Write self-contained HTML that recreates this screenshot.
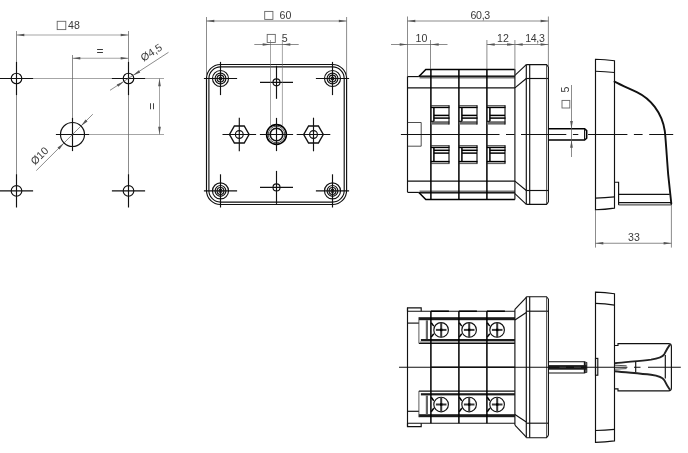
<!DOCTYPE html>
<html lang="en"><head><meta charset="utf-8"><title>Dimensional drawing</title>
<style>
html,body{margin:0;padding:0;background:#fff;}
svg{display:block;will-change:transform;}
svg *{fill:none;}
.k{stroke:#111;stroke-width:1.15;}
.kk{stroke:#000;stroke-width:1.5;}
.kt{stroke:#111;stroke-width:1.9;stroke-linecap:round;}
.kh{stroke:#111;stroke-width:1.4;}
.kn{stroke:#222;stroke-width:1.9;}
.k2{stroke:#222;stroke-width:0.8;}
.k3{stroke:#111;stroke-width:0.9;}
.g{stroke:#5a5a5a;stroke-width:0.7;}
.g2{stroke:#333;stroke-width:0.8;}
.s{stroke:#666;stroke-width:0.9;}
.g3{stroke:#6a6a6a;stroke-width:0.6;}
svg .a{fill:#555;stroke:none;}
svg text{fill:#3a3a3a;stroke:none;font-family:"Liberation Sans",sans-serif;}
</style></head>
<body>
<svg width="688" height="453" viewBox="0 0 688 453">
<rect x="0" y="0" width="688" height="453" style="fill:#fff"/>
<line x1="16.50" y1="78.50" x2="164.00" y2="78.50" class="g3"/>
<line x1="16.50" y1="31.00" x2="16.50" y2="190.90" class="g"/>
<line x1="128.50" y1="31.00" x2="128.50" y2="190.90" class="g"/>
<line x1="72.50" y1="134.50" x2="164.00" y2="134.50" class="g3"/>
<line x1="72.50" y1="55.00" x2="72.50" y2="134.50" class="g"/>
<circle cx="16.50" cy="78.50" r="5.30" class="k"/>
<line x1="-0.10" y1="78.50" x2="33.10" y2="78.50" class="k"/>
<line x1="16.50" y1="61.90" x2="16.50" y2="95.10" class="k"/>
<circle cx="16.50" cy="190.90" r="5.30" class="k"/>
<line x1="-0.10" y1="190.90" x2="33.10" y2="190.90" class="k"/>
<line x1="16.50" y1="174.30" x2="16.50" y2="207.50" class="k"/>
<circle cx="128.50" cy="78.50" r="5.30" class="k"/>
<line x1="111.90" y1="78.50" x2="145.10" y2="78.50" class="k"/>
<line x1="128.50" y1="61.90" x2="128.50" y2="95.10" class="k"/>
<circle cx="128.50" cy="190.90" r="5.30" class="k"/>
<line x1="111.90" y1="190.90" x2="145.10" y2="190.90" class="k"/>
<line x1="128.50" y1="174.30" x2="128.50" y2="207.50" class="k"/>
<circle cx="72.50" cy="134.50" r="12.00" class="k"/>
<line x1="55.90" y1="134.50" x2="89.10" y2="134.50" class="k"/>
<line x1="72.50" y1="117.90" x2="72.50" y2="151.10" class="k"/>
<line x1="16.50" y1="35.00" x2="128.50" y2="35.00" class="g3"/>
<polygon points="16.50,35.00 24.30,33.65 24.30,36.35" class="a"/>
<polygon points="128.50,35.00 120.70,36.35 120.70,33.65" class="a"/>
<line x1="72.50" y1="58.25" x2="128.50" y2="58.25" class="g3"/>
<polygon points="72.50,58.25 80.30,56.90 80.30,59.60" class="a"/>
<polygon points="128.50,58.25 120.70,59.60 120.70,56.90" class="a"/>
<line x1="159.50" y1="78.50" x2="159.50" y2="134.50" class="g3"/>
<polygon points="159.50,78.50 160.85,86.30 158.15,86.30" class="a"/>
<polygon points="159.50,134.50 158.15,126.70 160.85,126.70" class="a"/>
<line x1="110.00" y1="90.30" x2="168.50" y2="52.30" class="g"/>
<polygon points="133.00,75.60 138.81,70.22 140.28,72.48" class="a"/>
<polygon points="124.00,81.40 118.19,86.78 116.72,84.52" class="a"/>
<line x1="36.30" y1="170.60" x2="92.80" y2="114.20" class="g"/>
<polygon points="81.00,126.00 85.56,119.53 87.47,121.44" class="a"/>
<polygon points="64.00,143.00 59.44,149.47 57.53,147.56" class="a"/>
<rect x="57.20" y="21.30" width="8.60" height="8.30" rx="0" class="s"/>
<text x="68.00" y="28.90" text-anchor="start" font-size="10.6">48</text>
<text x="99.90" y="55.00" text-anchor="middle" font-size="12">=</text>
<text x="156.00" y="106.30" text-anchor="middle" font-size="12" transform="rotate(-90 156.00 106.30)">=</text>
<text x="143.50" y="61.80" text-anchor="start" font-size="10.6" transform="rotate(-32.5 143.50 61.80)">Ø4,5</text>
<text x="34.90" y="165.60" text-anchor="start" font-size="10.6" transform="rotate(-45 34.90 165.60)">Ø10</text>
<rect x="206.50" y="64.50" width="140.10" height="140.00" rx="14" class="k"/>
<rect x="208.90" y="66.90" width="135.30" height="135.20" rx="11.6" class="k"/>
<circle cx="220.50" cy="78.50" r="8.00" class="k"/>
<circle cx="220.50" cy="78.50" r="5.40" class="k"/>
<circle cx="220.50" cy="78.50" r="3.40" class="k"/>
<circle cx="220.50" cy="78.50" r="1.50" class="k"/>
<line x1="203.90" y1="78.50" x2="237.10" y2="78.50" class="k"/>
<line x1="220.50" y1="61.90" x2="220.50" y2="95.10" class="k"/>
<circle cx="220.50" cy="190.90" r="8.00" class="k"/>
<circle cx="220.50" cy="190.90" r="5.40" class="k"/>
<circle cx="220.50" cy="190.90" r="3.40" class="k"/>
<circle cx="220.50" cy="190.90" r="1.50" class="k"/>
<line x1="203.90" y1="190.90" x2="237.10" y2="190.90" class="k"/>
<line x1="220.50" y1="174.30" x2="220.50" y2="207.50" class="k"/>
<circle cx="332.50" cy="78.50" r="8.00" class="k"/>
<circle cx="332.50" cy="78.50" r="5.40" class="k"/>
<circle cx="332.50" cy="78.50" r="3.40" class="k"/>
<circle cx="332.50" cy="78.50" r="1.50" class="k"/>
<line x1="315.90" y1="78.50" x2="349.10" y2="78.50" class="k"/>
<line x1="332.50" y1="61.90" x2="332.50" y2="95.10" class="k"/>
<circle cx="332.50" cy="190.90" r="8.00" class="k"/>
<circle cx="332.50" cy="190.90" r="5.40" class="k"/>
<circle cx="332.50" cy="190.90" r="3.40" class="k"/>
<circle cx="332.50" cy="190.90" r="1.50" class="k"/>
<line x1="315.90" y1="190.90" x2="349.10" y2="190.90" class="k"/>
<line x1="332.50" y1="174.30" x2="332.50" y2="207.50" class="k"/>
<circle cx="276.50" cy="82.30" r="3.50" class="k"/>
<line x1="260.00" y1="82.30" x2="293.00" y2="82.30" class="k"/>
<line x1="276.50" y1="65.80" x2="276.50" y2="98.80" class="k"/>
<circle cx="276.50" cy="187.40" r="3.50" class="k"/>
<line x1="260.00" y1="187.40" x2="293.00" y2="187.40" class="k"/>
<line x1="276.50" y1="170.90" x2="276.50" y2="203.90" class="k"/>
<line x1="270.50" y1="40.00" x2="270.50" y2="125.00" class="g3"/>
<line x1="282.40" y1="40.00" x2="282.40" y2="125.00" class="g3"/>
<circle cx="276.5" cy="134.5" r="9.9" style="stroke:#000;stroke-width:1.6"/>
<circle cx="276.50" cy="134.50" r="8.30" class="k2"/>
<circle cx="276.5" cy="134.5" r="6.3" style="stroke:#111;stroke-width:1.6"/>
<line x1="259.90" y1="134.50" x2="293.10" y2="134.50" class="k"/>
<line x1="276.50" y1="117.90" x2="276.50" y2="151.10" class="k"/>
<polygon points="249.10,134.50 244.20,142.99 234.40,142.99 229.50,134.50 234.40,126.01 244.20,126.01" class="kh"/>
<circle cx="239.30" cy="134.50" r="3.90" class="k"/>
<line x1="222.50" y1="134.50" x2="256.10" y2="134.50" class="k"/>
<line x1="239.30" y1="117.70" x2="239.30" y2="151.30" class="k"/>
<polygon points="323.30,134.50 318.40,142.99 308.60,142.99 303.70,134.50 308.60,126.01 318.40,126.01" class="kh"/>
<circle cx="313.50" cy="134.50" r="3.90" class="k"/>
<line x1="296.70" y1="134.50" x2="330.30" y2="134.50" class="k"/>
<line x1="313.50" y1="117.70" x2="313.50" y2="151.30" class="k"/>
<line x1="206.50" y1="17.00" x2="206.50" y2="76.50" class="g"/>
<line x1="346.60" y1="17.00" x2="346.60" y2="76.50" class="g"/>
<line x1="206.50" y1="21.00" x2="346.60" y2="21.00" class="g"/>
<polygon points="206.50,21.00 214.30,19.65 214.30,22.35" class="a"/>
<polygon points="346.60,21.00 338.80,22.35 338.80,19.65" class="a"/>
<line x1="254.30" y1="44.50" x2="298.70" y2="44.50" class="g"/>
<polygon points="270.50,44.50 262.70,45.85 262.70,43.15" class="a"/>
<polygon points="282.50,44.50 290.30,43.15 290.30,45.85" class="a"/>
<rect x="264.70" y="11.40" width="8.20" height="8.00" rx="0" class="s"/>
<text x="279.50" y="19.40" text-anchor="start" font-size="10.6">60</text>
<rect x="267.20" y="34.40" width="8.10" height="8.10" rx="0" class="s"/>
<text x="281.80" y="42.30" text-anchor="start" font-size="10.6">5</text>
<polyline points="407.50,76.60 418.90,76.60" class="k"/>
<polyline points="418.90,76.60 425.80,69.40 514.90,69.40" class="kk"/>
<line x1="418.90" y1="76.30" x2="514.90" y2="76.30" class="kk"/>
<line x1="419.5" y1="77.60" x2="514.9" y2="77.60" style="stroke:#777;stroke-width:1.6"/>
<line x1="407.50" y1="87.90" x2="514.90" y2="87.90" class="k"/>
<line x1="514.90" y1="75.40" x2="526.30" y2="64.60" class="k"/>
<line x1="514.90" y1="87.90" x2="526.30" y2="78.50" class="k"/>
<path d="M526.3,64.6 L546.5,64.6 L548.4,66.9" class="k"/>
<line x1="526.30" y1="78.50" x2="548.40" y2="78.50" class="k"/>
<line x1="546.50" y1="65.10" x2="546.50" y2="78.50" class="g2"/>
<polyline points="407.50,192.40 418.90,192.40" class="k"/>
<polyline points="418.90,192.40 425.80,199.60 514.90,199.60" class="kk"/>
<line x1="418.90" y1="192.70" x2="514.90" y2="192.70" class="kk"/>
<line x1="419.5" y1="191.40" x2="514.9" y2="191.40" style="stroke:#777;stroke-width:1.6"/>
<line x1="407.50" y1="181.10" x2="514.90" y2="181.10" class="k"/>
<line x1="514.90" y1="193.60" x2="526.30" y2="204.40" class="k"/>
<line x1="514.90" y1="181.10" x2="526.30" y2="190.50" class="k"/>
<path d="M526.3,204.4 L546.5,204.4 L548.4,202.1" class="k"/>
<line x1="526.30" y1="190.50" x2="548.40" y2="190.50" class="k"/>
<line x1="546.50" y1="203.90" x2="546.50" y2="190.50" class="g2"/>
<line x1="407.50" y1="76.40" x2="407.50" y2="192.20" class="k"/>
<line x1="430.90" y1="69.20" x2="430.90" y2="199.40" class="kk"/>
<line x1="458.90" y1="69.20" x2="458.90" y2="199.40" class="kk"/>
<line x1="486.90" y1="69.20" x2="486.90" y2="199.40" class="kk"/>
<line x1="514.90" y1="69.20" x2="514.90" y2="199.40" class="k"/>
<line x1="526.30" y1="64.40" x2="526.30" y2="204.20" class="k"/>
<line x1="529.70" y1="64.40" x2="529.70" y2="204.20" class="k"/>
<line x1="548.40" y1="66.70" x2="548.40" y2="201.90" class="k"/>
<line x1="546.50" y1="78.30" x2="546.50" y2="190.30" class="g2"/>
<polyline points="407.50,122.50 421.20,122.50 421.20,146.20 407.50,146.20" class="k2"/>
<rect x="430.90" y="121.2" width="18.4" height="3.4" style="fill:#6a6a6a"/>
<line x1="430.90" y1="105.60" x2="449.50" y2="105.60" class="k2"/>
<line x1="430.90" y1="107.40" x2="449.50" y2="107.40" class="kk"/>
<line x1="449.00" y1="105.60" x2="449.00" y2="124.40" class="k"/>
<line x1="433.90" y1="107.40" x2="433.90" y2="121.30" class="kk"/>
<line x1="433.90" y1="115.40" x2="449.00" y2="115.40" class="kk"/>
<line x1="433.90" y1="118.10" x2="449.50" y2="118.10" class="kk"/>
<line x1="430.90" y1="121.30" x2="433.90" y2="121.30" class="k"/>
<line x1="430.90" y1="145.60" x2="449.50" y2="145.60" class="k2"/>
<line x1="430.90" y1="147.40" x2="449.50" y2="147.40" class="kk"/>
<line x1="449.00" y1="145.60" x2="449.00" y2="163.60" class="k"/>
<line x1="433.90" y1="147.40" x2="433.90" y2="161.60" class="kk"/>
<line x1="433.90" y1="150.30" x2="449.50" y2="150.30" class="kk"/>
<line x1="433.90" y1="153.10" x2="449.00" y2="153.10" class="kk"/>
<line x1="430.90" y1="161.60" x2="449.50" y2="161.60" class="kk"/>
<line x1="430.90" y1="163.60" x2="449.50" y2="163.60" class="k2"/>
<rect x="458.90" y="121.2" width="18.4" height="3.4" style="fill:#6a6a6a"/>
<line x1="458.90" y1="105.60" x2="477.50" y2="105.60" class="k2"/>
<line x1="458.90" y1="107.40" x2="477.50" y2="107.40" class="kk"/>
<line x1="477.00" y1="105.60" x2="477.00" y2="124.40" class="k"/>
<line x1="461.90" y1="107.40" x2="461.90" y2="121.30" class="kk"/>
<line x1="461.90" y1="115.40" x2="477.00" y2="115.40" class="kk"/>
<line x1="461.90" y1="118.10" x2="477.50" y2="118.10" class="kk"/>
<line x1="458.90" y1="121.30" x2="461.90" y2="121.30" class="k"/>
<line x1="458.90" y1="145.60" x2="477.50" y2="145.60" class="k2"/>
<line x1="458.90" y1="147.40" x2="477.50" y2="147.40" class="kk"/>
<line x1="477.00" y1="145.60" x2="477.00" y2="163.60" class="k"/>
<line x1="461.90" y1="147.40" x2="461.90" y2="161.60" class="kk"/>
<line x1="461.90" y1="150.30" x2="477.50" y2="150.30" class="kk"/>
<line x1="461.90" y1="153.10" x2="477.00" y2="153.10" class="kk"/>
<line x1="458.90" y1="161.60" x2="477.50" y2="161.60" class="kk"/>
<line x1="458.90" y1="163.60" x2="477.50" y2="163.60" class="k2"/>
<rect x="486.90" y="121.2" width="18.4" height="3.4" style="fill:#6a6a6a"/>
<line x1="486.90" y1="105.60" x2="505.50" y2="105.60" class="k2"/>
<line x1="486.90" y1="107.40" x2="505.50" y2="107.40" class="kk"/>
<line x1="505.00" y1="105.60" x2="505.00" y2="124.40" class="k"/>
<line x1="489.90" y1="107.40" x2="489.90" y2="121.30" class="kk"/>
<line x1="489.90" y1="115.40" x2="505.00" y2="115.40" class="kk"/>
<line x1="489.90" y1="118.10" x2="505.50" y2="118.10" class="kk"/>
<line x1="486.90" y1="121.30" x2="489.90" y2="121.30" class="k"/>
<line x1="486.90" y1="145.60" x2="505.50" y2="145.60" class="k2"/>
<line x1="486.90" y1="147.40" x2="505.50" y2="147.40" class="kk"/>
<line x1="505.00" y1="145.60" x2="505.00" y2="163.60" class="k"/>
<line x1="489.90" y1="147.40" x2="489.90" y2="161.60" class="kk"/>
<line x1="489.90" y1="150.30" x2="505.50" y2="150.30" class="kk"/>
<line x1="489.90" y1="153.10" x2="505.00" y2="153.10" class="kk"/>
<line x1="486.90" y1="161.60" x2="505.50" y2="161.60" class="kk"/>
<line x1="486.90" y1="163.60" x2="505.50" y2="163.60" class="k2"/>
<path d="M548.4,128.8 L584.6,128.8 L586.7,130.6 L586.7,138.2 L584.6,140 L548.4,140" class="kk"/>
<line x1="584.60" y1="128.80" x2="584.60" y2="140.00" class="k"/>
<path d="M400.9,134.5 H499.5 M506,134.5 H514.5 M521,134.5 H566.3 M572.9,134.5 H578.3 M588.1,134.5 H627.4 M633.9,134.5 H642.6 M649.2,134.5 H673.2" class="k"/>
<path d="M595.5,59.3 Q605.0,59.4 614.5,60.8 L614.5,208.1 Q605.0,209.5 595.5,209.8 Z" class="k"/>
<path d="M595.5,71.2 Q605.0,71.4 614.5,72.5" class="k"/>
<path d="M595.5,198.1 Q605.0,197.9 614.5,196.9" class="k"/>
<path d="M614.5,81.6 C622,85.5 630,88.8 637.3,92.3 C650,98.5 662,112 664.8,131 C665.6,137 667,160 668.2,174.6 L671.3,203.5" class="kt"/>
<path d="M614.5,182.2 H618.6 V205 M671.3,205 V202.6 H618.6 M618.6,194.4 H669.7" class="k"/>
<line x1="618.6" y1="204.9" x2="671.3" y2="204.9" style="stroke:#555;stroke-width:1.3"/>
<line x1="407.50" y1="16.50" x2="407.50" y2="76.00" class="g"/>
<line x1="548.40" y1="16.50" x2="548.40" y2="66.00" class="g"/>
<line x1="430.50" y1="40.00" x2="430.50" y2="69.00" class="g"/>
<line x1="486.90" y1="40.00" x2="486.90" y2="69.00" class="g"/>
<line x1="514.90" y1="40.00" x2="514.90" y2="75.00" class="g"/>
<line x1="407.50" y1="21.00" x2="548.40" y2="21.00" class="g"/>
<polygon points="407.50,21.00 415.30,19.65 415.30,22.35" class="a"/>
<polygon points="548.40,21.00 540.60,22.35 540.60,19.65" class="a"/>
<line x1="391.00" y1="44.50" x2="447.50" y2="44.50" class="g"/>
<polygon points="407.50,44.50 399.70,45.85 399.70,43.15" class="a"/>
<polygon points="430.90,44.50 438.70,43.15 438.70,45.85" class="a"/>
<line x1="486.90" y1="44.50" x2="548.40" y2="44.50" class="g"/>
<polygon points="486.90,44.50 494.70,43.15 494.70,45.85" class="a"/>
<polygon points="514.90,44.50 507.10,45.85 507.10,43.15" class="a"/>
<polygon points="514.90,44.50 522.70,43.15 522.70,45.85" class="a"/>
<polygon points="548.40,44.50 540.60,45.85 540.60,43.15" class="a"/>
<text x="470.50" y="19.40" text-anchor="start" font-size="10.6" textLength="19.7" lengthAdjust="spacing">60,3</text>
<text x="415.60" y="42.20" text-anchor="start" font-size="10.6">10</text>
<text x="497.00" y="42.20" text-anchor="start" font-size="10.6">12</text>
<text x="525.20" y="42.20" text-anchor="start" font-size="10.6" textLength="19.6" lengthAdjust="spacing">14,3</text>
<line x1="571.50" y1="85.00" x2="571.50" y2="157.00" class="g"/>
<polygon points="571.50,128.80 570.15,121.00 572.85,121.00" class="a"/>
<polygon points="571.50,140.00 572.85,147.80 570.15,147.80" class="a"/>
<rect x="562.00" y="100.40" width="7.80" height="7.60" rx="0" class="s"/>
<text x="569.40" y="92.60" text-anchor="start" font-size="10.6" transform="rotate(-90 569.40 92.60)">5</text>
<line x1="595.50" y1="210.00" x2="595.50" y2="247.60" class="g"/>
<line x1="671.40" y1="205.00" x2="671.40" y2="247.60" class="g"/>
<line x1="595.50" y1="243.25" x2="671.40" y2="243.25" class="g"/>
<polygon points="595.50,243.25 603.30,241.90 603.30,244.60" class="a"/>
<polygon points="671.40,243.25 663.60,244.60 663.60,241.90" class="a"/>
<text x="628.00" y="240.90" text-anchor="start" font-size="10.6">33</text>
<polyline points="407.50,311.20 407.50,307.80 421.20,307.80 421.20,311.20" class="k"/>
<line x1="407.50" y1="311.20" x2="514.90" y2="311.20" class="k"/>
<line x1="430.90" y1="311.20" x2="448.90" y2="311.20" class="kk"/>
<line x1="458.90" y1="311.20" x2="476.90" y2="311.20" class="kk"/>
<line x1="486.90" y1="311.20" x2="504.90" y2="311.20" class="kk"/>
<line x1="407.50" y1="323.10" x2="418.90" y2="323.10" class="k"/>
<rect x="418.9" y="317.20" width="96.00" height="3.00" style="fill:#1c1c1c"/>
<rect x="420.9" y="339.00" width="94.00" height="2.20" style="fill:#1c1c1c"/>
<rect x="420.0" y="341.20" width="94.90" height="2.00" style="fill:#a8a8a8"/>
<line x1="418.90" y1="317.20" x2="418.90" y2="343.30" class="g2"/>
<line x1="418.90" y1="343.30" x2="514.90" y2="343.30" class="k"/>
<line x1="426.9" y1="320.20" x2="426.9" y2="339.00" style="stroke:#666;stroke-width:2.2"/>
<circle cx="441.10" cy="329.90" r="7.30" class="k"/>
<rect x="435.90" y="328.90" width="10.6" height="2.0" style="fill:#3a3a3a"/>
<rect x="440.20" y="322.60" width="2.0" height="14.6" style="fill:#3a3a3a"/>
<rect x="440.00" y="328.70" width="2.4" height="2.4" style="fill:#000"/>
<polyline points="431.20,322.70 433.80,326.10" class="kk"/>
<polyline points="431.20,337.10 433.80,333.70" class="kk"/>
<circle cx="469.10" cy="329.90" r="7.30" class="k"/>
<rect x="463.90" y="328.90" width="10.6" height="2.0" style="fill:#3a3a3a"/>
<rect x="468.20" y="322.60" width="2.0" height="14.6" style="fill:#3a3a3a"/>
<rect x="468.00" y="328.70" width="2.4" height="2.4" style="fill:#000"/>
<polyline points="459.20,322.70 461.80,326.10" class="kk"/>
<polyline points="459.20,337.10 461.80,333.70" class="kk"/>
<circle cx="497.10" cy="329.90" r="7.30" class="k"/>
<rect x="491.90" y="328.90" width="10.6" height="2.0" style="fill:#3a3a3a"/>
<rect x="496.20" y="322.60" width="2.0" height="14.6" style="fill:#3a3a3a"/>
<rect x="496.00" y="328.70" width="2.4" height="2.4" style="fill:#000"/>
<polyline points="487.20,322.70 489.80,326.10" class="kk"/>
<polyline points="487.20,337.10 489.80,333.70" class="kk"/>
<line x1="514.90" y1="309.30" x2="526.30" y2="297.30" class="k"/>
<line x1="514.90" y1="320.00" x2="526.30" y2="312.40" class="k"/>
<path d="M526.3,296.7 L546.5,296.7 L548.4,299.0" class="k"/>
<line x1="526.30" y1="311.20" x2="548.40" y2="311.20" class="k"/>
<line x1="546.50" y1="297.20" x2="546.50" y2="311.20" class="g2"/>
<polyline points="407.50,423.20 407.50,426.60 421.20,426.60 421.20,423.20" class="k"/>
<line x1="407.50" y1="423.20" x2="514.90" y2="423.20" class="k"/>
<line x1="407.50" y1="411.30" x2="418.90" y2="411.30" class="k"/>
<rect x="418.9" y="414.20" width="96.00" height="3.00" style="fill:#1c1c1c"/>
<rect x="420.9" y="393.20" width="94.00" height="2.20" style="fill:#1c1c1c"/>
<line x1="418.90" y1="417.20" x2="418.90" y2="391.10" class="g2"/>
<line x1="418.90" y1="391.10" x2="514.90" y2="391.10" class="k"/>
<line x1="426.9" y1="414.20" x2="426.9" y2="395.40" style="stroke:#666;stroke-width:2.2"/>
<circle cx="441.10" cy="404.50" r="7.30" class="k"/>
<rect x="435.90" y="403.50" width="10.6" height="2.0" style="fill:#3a3a3a"/>
<rect x="440.20" y="397.20" width="2.0" height="14.6" style="fill:#3a3a3a"/>
<rect x="440.00" y="403.30" width="2.4" height="2.4" style="fill:#000"/>
<polyline points="431.20,397.30 433.80,400.70" class="kk"/>
<polyline points="431.20,411.70 433.80,408.30" class="kk"/>
<circle cx="469.10" cy="404.50" r="7.30" class="k"/>
<rect x="463.90" y="403.50" width="10.6" height="2.0" style="fill:#3a3a3a"/>
<rect x="468.20" y="397.20" width="2.0" height="14.6" style="fill:#3a3a3a"/>
<rect x="468.00" y="403.30" width="2.4" height="2.4" style="fill:#000"/>
<polyline points="459.20,397.30 461.80,400.70" class="kk"/>
<polyline points="459.20,411.70 461.80,408.30" class="kk"/>
<circle cx="497.10" cy="404.50" r="7.30" class="k"/>
<rect x="491.90" y="403.50" width="10.6" height="2.0" style="fill:#3a3a3a"/>
<rect x="496.20" y="397.20" width="2.0" height="14.6" style="fill:#3a3a3a"/>
<rect x="496.00" y="403.30" width="2.4" height="2.4" style="fill:#000"/>
<polyline points="487.20,397.30 489.80,400.70" class="kk"/>
<polyline points="487.20,411.70 489.80,408.30" class="kk"/>
<line x1="514.90" y1="425.10" x2="526.30" y2="437.10" class="k"/>
<line x1="514.90" y1="414.40" x2="526.30" y2="422.00" class="k"/>
<path d="M526.3,437.7 L546.5,437.7 L548.4,435.4" class="k"/>
<line x1="526.30" y1="423.20" x2="548.40" y2="423.20" class="k"/>
<line x1="546.50" y1="437.20" x2="546.50" y2="423.20" class="g2"/>
<line x1="407.50" y1="307.80" x2="407.50" y2="426.60" class="k"/>
<line x1="430.90" y1="311.20" x2="430.90" y2="423.20" class="kk"/>
<line x1="458.90" y1="311.20" x2="458.90" y2="423.20" class="kk"/>
<line x1="486.90" y1="311.20" x2="486.90" y2="423.20" class="kk"/>
<line x1="514.90" y1="309.30" x2="514.90" y2="425.10" class="k"/>
<line x1="526.30" y1="296.70" x2="526.30" y2="437.70" class="k"/>
<line x1="529.70" y1="296.70" x2="529.70" y2="437.70" class="k"/>
<line x1="548.40" y1="299.00" x2="548.40" y2="435.40" class="k"/>
<line x1="546.50" y1="311.20" x2="546.50" y2="423.20" class="g2"/>
<line x1="430.90" y1="367.20" x2="514.90" y2="367.20" class="kh"/>
<path d="M548.4,361.7 H584.4 L586.7,362.6 V372.1 L584.4,373 H548.4" class="k"/>
<rect x="584.4" y="362.2" width="2.3" height="10.3" style="fill:#555"/>
<line x1="584.40" y1="361.70" x2="584.40" y2="373.00" class="k"/>
<rect x="548.4" y="365.1" width="38.30" height="4.6" style="fill:#1a1a1a"/>
<path d="M559.5,367.4 H566 M574,367.4 H581" style="stroke:#ddd;stroke-width:0.8"/>
<path d="M399,367.2 H627.4 M634,367.2 H640.5 M648,367.2 H680.8" class="k"/>
<path d="M595.5,292.1 Q605.0,292.3 614.5,293.7 L614.5,440.9 Q605.0,442.2 595.5,442.4 Z" class="k"/>
<path d="M595.5,303.4 Q605.0,303.7 614.5,305.1" class="k"/>
<path d="M595.5,430.5 Q605.0,430.3 614.5,429.4" class="k"/>
<rect x="595.50" y="358.40" width="2.30" height="16.80" rx="0" class="k"/>
<path d="M614.5,345.5 H618 V343.6 H668.6 Q671.4,343.6 671.4,346.5 V387.9 Q671.4,390.8 668.6,390.8 H618 V388.8 H614.5" class="k"/>
<path d="M614.5,363.2 C628,361.8 640,360.9 651,359.59999999999997 C658,358.59999999999997 662.5,357.2 664.3,354.2 C666,350.7 668,347.2 669.9,344.59999999999997" class="kn"/>
<path d="M614.5,365.2 L626.6,365.8" class="k2"/>
<path d="M614.5,371.2 C628,372.59999999999997 640,373.5 651,374.8 C658,375.8 662.5,377.2 664.3,380.2 C666,383.7 668,387.2 669.9,389.8" class="kn"/>
<path d="M614.5,369.2 L626.6,368.59999999999997" class="k2"/>
<line x1="665.30" y1="355.00" x2="665.30" y2="378.60" class="k"/>
<line x1="635.70" y1="361.50" x2="635.70" y2="372.30" class="k"/>
</svg>
</body></html>
